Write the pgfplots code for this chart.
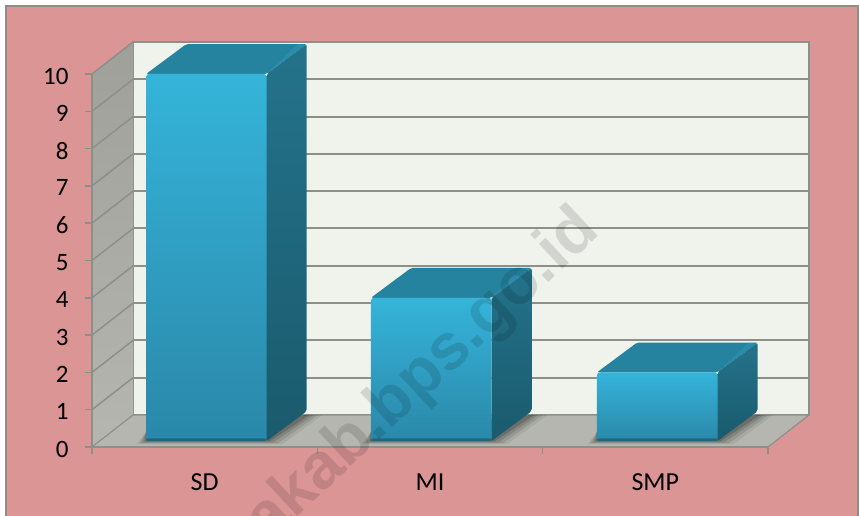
\documentclass[border=0pt]{standalone}
\usepackage{pgfplots}
\pgfplotsset{compat=1.18}
\usepackage{fontspec}
\setmainfont{Carlito}
\newfontfamily\wmfont{Liberation Sans}

\definecolor{pinkbg}{HTML}{DB9594}
\definecolor{wallbg}{HTML}{F0F2EC}
\definecolor{gridc}{HTML}{8F8F89}
\definecolor{floorc}{HTML}{B4B6AF}
\definecolor{frontT}{HTML}{35B4DA}
\definecolor{frontB}{HTML}{2A88A9}
\definecolor{sideT}{HTML}{24738B}
\definecolor{sideB}{HTML}{1A5A6D}
\definecolor{topc}{HTML}{25839F}

% depth of a bar in axis units
\def\dx{0.178}
\def\dy{0.80}
\def\bw{0.535}
\def\by{0.16}

% #1 left edge of the front face, #2 how far the soft shadow spreads, #3 opacity
\newcommand{\barshadow}[3]{%
  \pgfmathsetmacro\xa{#1}\pgfmathsetmacro\xb{#1+\bw}%
  \pgfmathsetmacro\xc{\xb+\dx}%
  \pgfmathsetmacro\xd{\xc+#2}\pgfmathsetmacro\xe{\xb+#2}\pgfmathsetmacro\xf{#1-#2*0.6}%
  \pgfmathsetmacro\yf{\by-#2*1.2}%
  \addplot[draw=none,fill=black,fill opacity=#3] coordinates {(\xf,\yf) (\xe,\yf) (\xd,0.86) (\xc,0.86) (\xa,0.4)} -- cycle;
}
% #1 left edge of the front face, #2 value
\newcommand{\threedbar}[2]{%
  \pgfmathsetmacro\xa{#1}\pgfmathsetmacro\xb{#1+\bw}%
  \pgfmathsetmacro\xc{\xb+\dx}\pgfmathsetmacro\xg{\xa+\dx}%
  \pgfmathsetmacro\yb{#2+\dy}\pgfmathsetmacro\yc{\by+\dy}%
  \pgfmathsetmacro\xh{\xc-0.04}\pgfmathsetmacro\yd{\by+0.07}%
  % top, side, front
  \addplot[draw=none,fill=topc,rounded corners=2pt] coordinates {(\xa,#2) (\xg,\yb) (\xc,\yb) (\xb,#2)} -- cycle;
  \addplot[draw=none,fill=frontT,fill opacity=0.22] coordinates {(\xb,#2) (\xh,\yb) (\xc,\yb)} -- cycle;
  \addplot[draw=none,top color=sideT,bottom color=sideB,rounded corners=2pt] coordinates {(\xb,#2) (\xc,\yb) (\xc,\yc) (\xb,\by)} -- cycle;
  \addplot[draw=none,top color=frontT,bottom color=frontB,rounded corners=3pt] coordinates {(\xa,#2) (\xb,#2) (\xb,\by) (\xa,\by)} -- cycle;
  % dark lower edge of the front
  \addplot[draw=none,fill=sideB,fill opacity=0.7,rounded corners=2pt] coordinates {(\xa,\yd) (\xb,\yd) (\xb,\by) (\xa,\by)} -- cycle;
}
\newcommand{\allshadows}[1]{%
  \barshadow{#1}{0.07}{0.07}
  \barshadow{#1}{0.05}{0.10}
  \barshadow{#1}{0.03}{0.13}
  \barshadow{#1}{0.012}{0.16}
}

\begin{document}
\begin{tikzpicture}[x=1pt,y=1pt]
\useasboundingbox (0,0) rectangle (859,516);
\clip (0,0) rectangle (859,516);
\fill[white] (0,0) rectangle (859,516);
\fill[pinkbg,draw=gridc,line width=2pt] (6,-5) rectangle (858,510);

\begin{axis}[
    at={(92pt,69pt)},anchor=south west,
    x=225.33pt,y=37.3pt,
    xmin=0,xmax=3,ymin=0,ymax=10,
    clip=false,
    axis line style={draw=none},
    xtick={0,1,2,3},
    xticklabels={SD,MI,SMP},
    x tick label as interval,
    ytick={0,1,...,10},
    tick style={gridc,line width=1.5pt},
    major tick length=7pt,
    tick align=outside,
    xtick pos=bottom,ytick pos=left,
    /pgf/number format/assume math mode=true,
    y tick label style={font=\fontsize{25}{25}\selectfont,text=black,xshift=-13pt,yshift=-2pt},
    x tick label style={font=\fontsize{26}{26}\selectfont,text=black,yshift=-16pt},
  ]
  % back wall, side wall, floor
  \addplot[draw=gridc,line width=1.5pt,fill=wallbg] coordinates {(0.182,0.858) (3.182,0.858) (3.182,10.858) (0.182,10.858)} -- cycle;
  \addplot[draw=none,top color=gridc!85!white,bottom color=floorc] coordinates {(0,0) (0.182,0.858) (0.182,10.858) (0,10)} -- cycle;
  \addplot[draw=gridc,line width=1.2pt,fill=floorc] coordinates {(0,0) (3,0) (3.182,0.858) (0.182,0.858)} -- cycle;
  % grid lines on the walls
  \addplot[gridc,line width=2pt,unbounded coords=jump] coordinates {
    (0.182,1.858) (3.182,1.858) (0.182,nan)
    (0.182,2.858) (3.182,2.858) (0.182,nan)
    (0.182,3.858) (3.182,3.858) (0.182,nan)
    (0.182,4.858) (3.182,4.858) (0.182,nan)
    (0.182,5.858) (3.182,5.858) (0.182,nan)
    (0.182,6.858) (3.182,6.858) (0.182,nan)
    (0.182,7.858) (3.182,7.858) (0.182,nan)
    (0.182,8.858) (3.182,8.858) (0.182,nan)
    (0.182,9.858) (3.182,9.858)
  };
  \addplot[gridc,line width=1.5pt,unbounded coords=jump] coordinates {
    (0,1) (0.182,1.858) (0,nan)
    (0,2) (0.182,2.858) (0,nan)
    (0,3) (0.182,3.858) (0,nan)
    (0,4) (0.182,4.858) (0,nan)
    (0,5) (0.182,5.858) (0,nan)
    (0,6) (0.182,6.858) (0,nan)
    (0,7) (0.182,7.858) (0,nan)
    (0,8) (0.182,8.858) (0,nan)
    (0,9) (0.182,9.858) (0,nan)
    (0,10) (0.182,10.858)
  };
  \addplot[gridc,line width=1.5pt] coordinates {(0,10) (0,0) (3,0)};
  % bars
  \allshadows{0.24}
  \allshadows{1.238}
  \allshadows{2.241}
  \threedbar{0.24}{10}
  \threedbar{1.238}{4}
  \threedbar{2.241}{2}
\end{axis}

% watermark
\node[rotate=43,anchor=east,inner sep=0pt,text=black,opacity=0.12,font=\wmfont\bfseries\fontsize{65}{65}\selectfont] at (590,295) {akab.bps.go.id};
\end{tikzpicture}
\end{document}
